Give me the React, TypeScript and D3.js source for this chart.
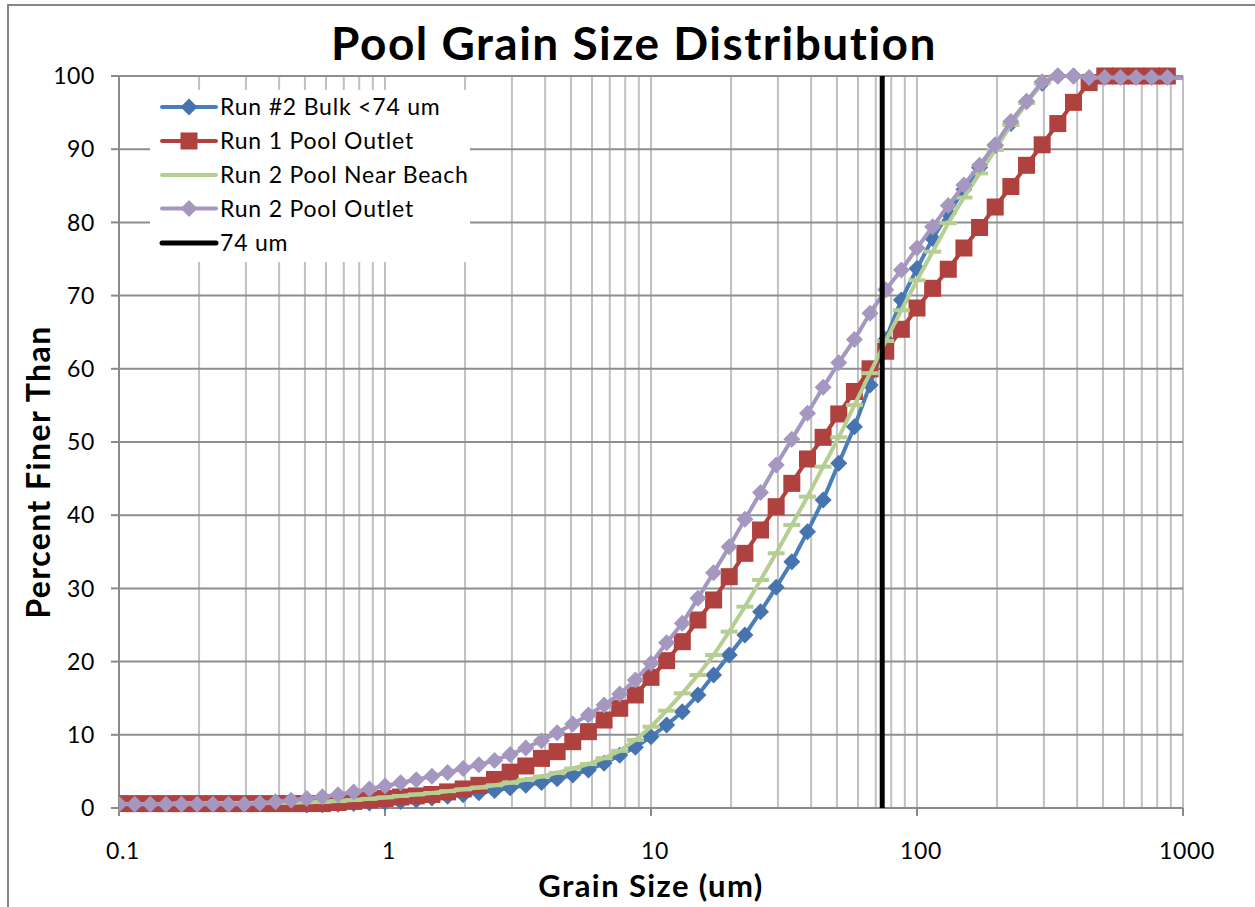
import React from "react";
import * as d3 from "d3";

// ---------- data ----------
const SIZES = [0.1, 0.1145, 0.1311, 0.1501, 0.1719, 0.1968, 0.2254, 0.2581, 0.2955, 0.3384,
  0.3875, 0.4437, 0.508, 0.5817, 0.6661, 0.7627, 0.8733, 1, 1.145, 1.311,
  1.501, 1.719, 1.968, 2.254, 2.581, 2.955, 3.384, 3.875, 4.437, 5.08,
  5.817, 6.661, 7.627, 8.733, 10, 11.45, 13.11, 15.01, 17.19, 19.68,
  22.54, 25.81, 29.55, 33.84, 38.75, 44.37, 50.8, 58.17, 66.61, 76.27,
  87.33, 100, 114.5, 131.1, 150.1, 171.9, 196.8, 225.4, 258.1, 295.5,
  338.4, 387.5, 443.7, 508, 581.7, 666.1, 762.7, 873.3, 1000];

const BULK_START = 12;
const BULK = [0.4, 0.45, 0.5, 0.6, 0.7, 0.8, 0.9, 1.1,
  1.35, 1.6, 1.8, 2.1, 2.4, 2.75, 3.1, 3.5, 4.0, 4.5,
  5.2, 6.1, 7.2, 8.3, 9.75, 11.34, 13.16, 15.44, 18.17, 20.9,
  23.63, 26.82, 30.15, 33.65, 37.75, 42.08, 47.09, 52.09, 57.8, 64.0,
  69.4, 73.7, 77.8, 81.2, 84.5, 87.5, 90.5, 93.5, 96.5, 99.0,
  100, 100];

const RUN1_OUTLET = [0.6, 0.6, 0.6, 0.6, 0.6, 0.6, 0.6, 0.6, 0.6, 0.6,
  0.6, 0.6, 0.6, 0.6, 0.75, 0.9, 1.1, 1.3, 1.5, 1.65,
  1.85, 2.2, 2.6, 3.1, 3.9, 4.9, 5.74, 6.78, 7.7, 9.06,
  10.43, 12.02, 13.62, 15.44, 17.85, 20.13, 22.72, 25.68, 28.42, 31.6,
  34.79, 37.98, 41.16, 44.35, 47.68, 50.64, 53.83, 56.9, 60.0, 62.4,
  65.4, 68.3, 71.0, 73.6, 76.5, 79.3, 82.1, 84.9, 87.8, 90.6,
  93.5, 96.4, 99.1, 100, 100, 100, 100, 100];

const RUN2_BEACH = [0.55, 0.55, 0.55, 0.55, 0.6, 0.6, 0.6, 0.65, 0.65, 0.7,
  0.7, 0.75, 0.8, 0.85, 0.95, 1.1, 1.25, 1.45, 1.65, 1.85,
  2.05, 2.3, 2.55, 2.8, 3.1, 3.45, 3.85, 4.3, 4.8, 5.4,
  6.0, 6.8, 7.8, 9.3, 11.1, 13.3, 15.66, 18.17, 20.9, 24.09,
  27.5, 31.15, 34.8, 38.66, 42.53, 46.63, 50.64, 55.05, 59.4, 63.8,
  68.0, 72.1, 76.0, 79.9, 83.4, 86.7, 89.9, 93.3, 96.3, 99.0,
  100, 100];

const RUN2_OUTLET = [0.5, 0.5, 0.5, 0.5, 0.5, 0.5, 0.5, 0.5, 0.5, 0.65,
  0.85, 1.05, 1.3, 1.55, 1.8, 2.2, 2.6, 3.0, 3.45, 3.85,
  4.35, 4.85, 5.4, 5.9, 6.5, 7.3, 8.2, 9.2, 10.29, 11.48,
  12.7, 14.07, 15.57, 17.49, 19.76, 22.58, 25.23, 28.65, 32.15, 35.7,
  39.43, 43.09, 46.86, 50.36, 53.92, 57.47, 60.84, 64.0, 67.6, 70.8,
  73.5, 76.5, 79.4, 82.3, 85.1, 87.8, 90.6, 93.8, 96.5, 99.2,
  100, 100, 99.8, 99.8, 99.8, 99.8, 99.8, 99.8, 99.7];

const LINE_74_SIZE = [74, 74];
const LINE_74_PCT = [0, 100];

const X_TICKS = [0.1, 1, 10, 100, 1000];
const Y_TICKS = [0, 10, 20, 30, 40, 50, 60, 70, 80, 90, 100];
const LEGEND_LABELS = ["Run #2 Bulk <74 um", "Run 1 Pool Outlet", "Run 2 Pool Near Beach", "Run 2 Pool Outlet", "74 um"];

// ---------- layout / style ----------
const W = 1255, H = 907;
const PL = 119, PR = 1183, PT = 76, PB = 808;
const FONT = "Lato, 'Open Sans', sans-serif";

const x = d3.scaleLog().domain([0.1, 1000]).range([PL, PR]);
const y = d3.scaleLinear().domain([0, 100]).range([PB, PT]);

type Pt = { s: number; v: number };
const mk = (vals: number[], start: number): Pt[] => vals.map((v, i) => ({ s: SIZES[start + i], v }));

const series = [
  { name: LEGEND_LABELS[0], color: "#4674AE", line: "#4A7EBB", marker: "diamond", data: mk(BULK, BULK_START) },
  { name: LEGEND_LABELS[1], color: "#AF413E", line: "#B0413E", marker: "square", data: mk(RUN1_OUTLET, 0) },
  { name: LEGEND_LABELS[2], color: "#B5CF93", line: "#B5CF93", marker: "dash", data: mk(RUN2_BEACH, 0) },
  { name: LEGEND_LABELS[3], color: "#A597C0", line: "#A597C0", marker: "diamond", data: mk(RUN2_OUTLET, 0) },
];

const lineGen = d3.line<Pt>().x(d => x(d.s)).y(d => y(d.v));

function Marker({ type, cx, cy, color }: { type: string; cx: number; cy: number; color: string }) {
  if (type === "diamond") {
    const r = 8.5;
    return <path d={`M${cx},${cy - r}L${cx + r},${cy}L${cx},${cy + r}L${cx - r},${cy}Z`} fill={color} />;
  }
  if (type === "square") {
    const h = 8.5;
    return <rect x={cx - h} y={cy - h} width={2 * h} height={2 * h} fill={color} />;
  }
  if (type === "dash") {
    return <rect x={cx - 8.5} y={cy - 2} width={17} height={4} fill={color} />;
  }
  return null;
}

export default function App() {
  const minor: number[] = [];
  for (let e = -1; e < 3; e++) {
    for (let m = 1; m <= 9; m++) minor.push(m * Math.pow(10, e));
  }
  minor.push(1000);

  const legendRows = [107, 141, 175, 208.5, 243];

  return (
    <svg width={W} height={H} style={{ position: "absolute", left: 0, top: 0, background: "#fff" }}>
      <defs>
        <clipPath id="plotclip">
          <rect x={PL} y={PT - 20} width={PR - PL} height={PB - PT + 40} />
        </clipPath>
      </defs>
      <rect x={0} y={0} width={W} height={H} fill="#fff" />
      {/* outer chart border */}
      <rect x={8} y={5} width={W + 20} height={H + 20} fill="none" stroke="#868686" strokeWidth={2} />

      {/* title */}
      <text x={634} y={60} textAnchor="middle" fontFamily={FONT} fontWeight="bold" fontSize={46} letterSpacing={1.5} fill="#000">
        Pool Grain Size Distribution
      </text>

      {/* vertical grid */}
      {minor.map((v, i) => (
        <line key={"vg" + i} x1={x(v)} x2={x(v)} y1={PT} y2={PB} stroke="#C0C0C0" strokeWidth={2} />
      ))}
      {/* horizontal grid */}
      {Y_TICKS.filter(t => t > 0).map(t => (
        <line key={"hg" + t} x1={PL} x2={PR} y1={y(t)} y2={y(t)} stroke="#8E8E8E" strokeWidth={2} />
      ))}

      {/* axes */}
      <line x1={PL} x2={PL} y1={PT} y2={PB} stroke="#8A8A8A" strokeWidth={2} />
      <line x1={PL} x2={PR} y1={PB} y2={PB} stroke="#8A8A8A" strokeWidth={2} />
      {Y_TICKS.map(t => (
        <line key={"yt" + t} x1={PL - 8} x2={PL} y1={y(t)} y2={y(t)} stroke="#8A8A8A" strokeWidth={2} />
      ))}
      {X_TICKS.map(t => (
        <line key={"xt" + t} x1={x(t)} x2={x(t)} y1={PB} y2={PB + 8} stroke="#8A8A8A" strokeWidth={2} />
      ))}
      {Y_TICKS.map(t => (
        <text key={"yl" + t} x={95} y={y(t)} dy="0.36em" textAnchor="end" fontFamily={FONT} fontSize={23} letterSpacing={0.6} fill="#000">
          {t}
        </text>
      ))}
      {X_TICKS.map(t => (
        <text key={"xl" + t} x={x(t) + 4} y={859} textAnchor="middle" fontFamily={FONT} fontSize={23} letterSpacing={0.6} fill="#000">
          {String(t)}
        </text>
      ))}

      {/* axis titles */}
      <text x={651} y={897} textAnchor="middle" fontFamily={FONT} fontWeight="bold" fontSize={31} letterSpacing={1.4} fill="#000">
        Grain Size (um)
      </text>
      <text transform={`translate(50,472) rotate(-90)`} textAnchor="middle" fontFamily={FONT} fontWeight="bold" fontSize={32} letterSpacing={1.4} fill="#000">
        Percent Finer Than
      </text>

      {/* series */}
      <g clipPath="url(#plotclip)">
        {series.map(s => (
          <g key={s.name}>
            <path d={lineGen(s.data) || ""} fill="none" stroke={s.line} strokeWidth={4} strokeLinejoin="round" strokeLinecap="round" />
            {s.data.filter(d => d.s < 1000).map((d, i) => (
              <Marker key={i} type={s.marker} cx={x(d.s)} cy={y(d.v)} color={s.color} />
            ))}
          </g>
        ))}
        <line x1={x(LINE_74_SIZE[0])} x2={x(LINE_74_SIZE[1])} y1={y(LINE_74_PCT[0])} y2={y(LINE_74_PCT[1])} stroke="#000" strokeWidth={5} />
      </g>

      {/* legend */}
      <rect x={150} y={90} width={320} height={172} fill="#fff" />
      {series.map((s, i) => (
        <g key={"lg" + i}>
          <line x1={162} x2={216} y1={legendRows[i]} y2={legendRows[i]} stroke={s.line} strokeWidth={4} strokeLinecap="round" />
          {s.marker !== "dash" && <Marker type={s.marker} cx={189} cy={legendRows[i]} color={s.color} />}
          <text x={220} y={legendRows[i]} dy="0.36em" fontFamily={FONT} fontSize={23} letterSpacing={0.8} fill="#000">{s.name}</text>
        </g>
      ))}
      <line x1={162} x2={216} y1={legendRows[4]} y2={legendRows[4]} stroke="#000" strokeWidth={5} strokeLinecap="round" />
      <text x={220} y={legendRows[4]} dy="0.36em" fontFamily={FONT} fontSize={23} letterSpacing={0.8} fill="#000">{LEGEND_LABELS[4]}</text>
    </svg>
  );
}
